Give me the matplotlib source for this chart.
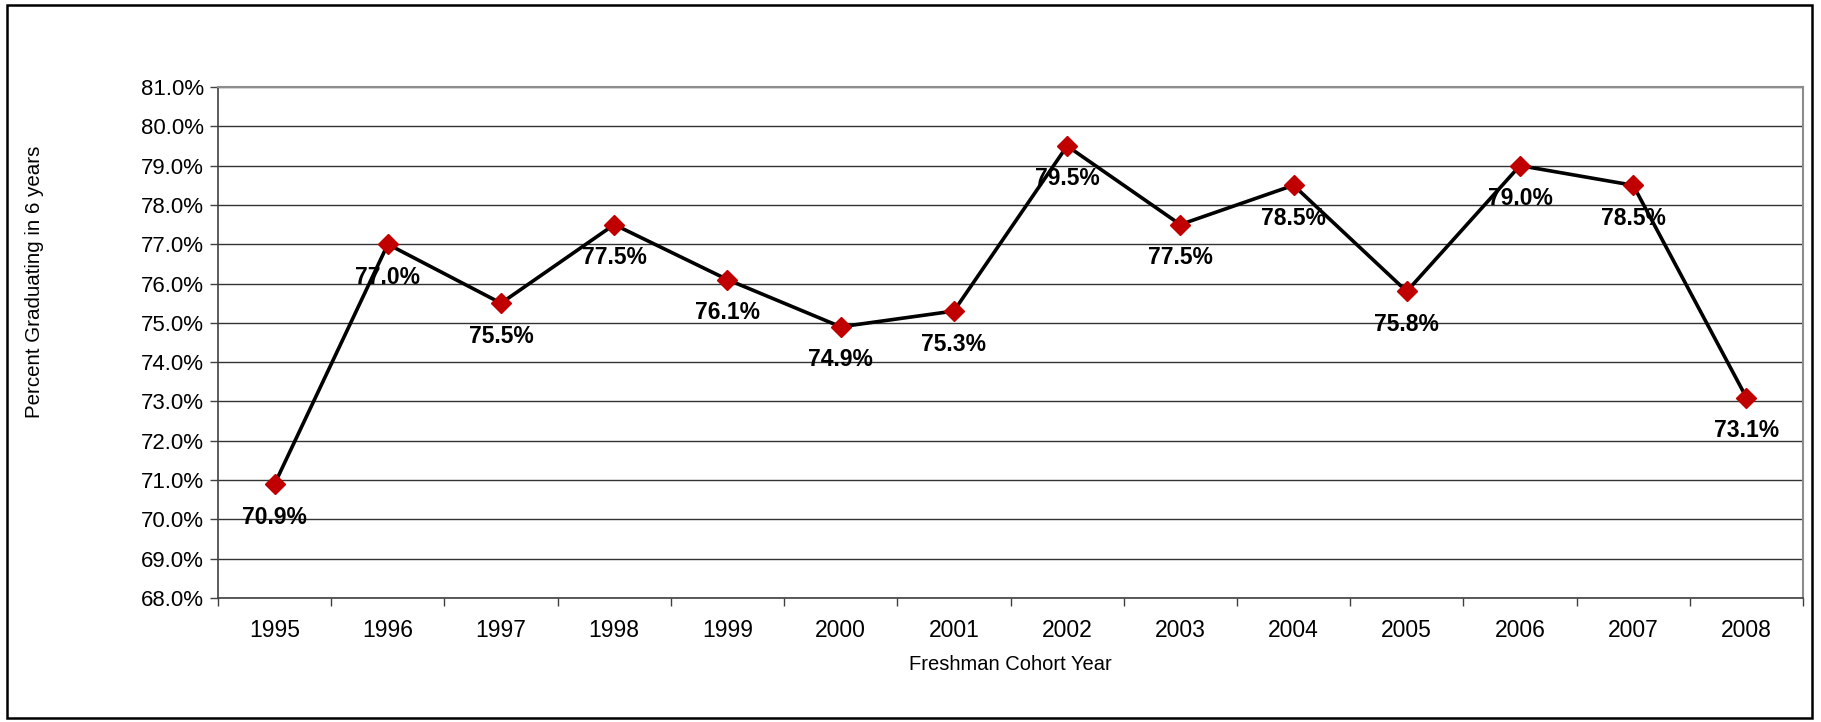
"""Six-year graduation rate by freshman cohort year."""

import matplotlib

matplotlib.use("Agg")
import matplotlib.pyplot as plt
from matplotlib.patches import Rectangle
from matplotlib.ticker import FixedLocator, FuncFormatter

COHORT_YEARS = ["1995", "1996", "1997", "1998", "1999", "2000", "2001",
                "2002", "2003", "2004", "2005", "2006", "2007", "2008"]
GRAD_RATES = [70.9, 77.0, 75.5, 77.5, 76.1, 74.9, 75.3,
              79.5, 77.5, 78.5, 75.8, 79.0, 78.5, 73.1]
Y_TICKS = [68.0 + i for i in range(14)]

FIG_W, FIG_H, DPI = 1821, 722, 100

plt.rcParams["font.family"] = ["Liberation Sans", "DejaVu Sans"]

fig = plt.figure(figsize=(FIG_W / DPI, FIG_H / DPI), dpi=DPI, facecolor="white")
ax = fig.add_axes([218 / FIG_W, 1 - 598 / FIG_H, (1803 - 218) / FIG_W, (598 - 87) / FIG_H])

x = list(range(len(COHORT_YEARS)))
ax.plot(x, GRAD_RATES, color="black", linewidth=2.6, zorder=3)
ax.plot(x, GRAD_RATES, linestyle="none", marker="D", markersize=10,
        color="#C00000", markeredgecolor="#C00000", zorder=4)

for xi, val in zip(x, GRAD_RATES):
    ax.annotate(f"{val:.1f}%", (xi, val), xytext=(0, -33), textcoords="offset pixels",
                ha="center", va="center", fontsize=16.5, fontweight="bold", zorder=5)

ax.set_xlim(-0.5, len(COHORT_YEARS) - 0.5)
ax.set_ylim(68.0, 81.0)
ax.set_yticks(Y_TICKS)
ax.yaxis.set_major_formatter(FuncFormatter(lambda v, _: f"{v:.1f}%"))
ax.set_xticks(x)
ax.set_xticklabels(COHORT_YEARS)
ax.xaxis.set_minor_locator(FixedLocator([i - 0.5 for i in range(len(COHORT_YEARS) + 1)]))
ax.tick_params(axis="x", which="major", length=0, pad=15, labelsize=16.5)
ax.tick_params(axis="x", which="minor", length=6, width=1, color="#404040", direction="out")
ax.tick_params(axis="y", length=6, width=1, color="#404040", pad=4, labelsize=16)

ax.grid(axis="y", color="#333333", linewidth=1.0)
ax.set_axisbelow(True)
for side in ("top", "right"):
    ax.spines[side].set_color("#8c8c8c")
    ax.spines[side].set_linewidth(1.5)
for side in ("left", "bottom"):
    ax.spines[side].set_color("#404040")
    ax.spines[side].set_linewidth(1.2)

fig.text(35 / FIG_W, 1 - 282 / FIG_H, "Percent Graduating in 6 years", rotation=90,
         ha="center", va="center", fontsize=14.8)
fig.text(1010 / FIG_W, 1 - 665 / FIG_H, "Freshman Cohort Year",
         ha="center", va="center", fontsize=14.5)

fig.patches.append(Rectangle((7 / FIG_W, 1 - 718 / FIG_H), (1812 - 7) / FIG_W, (718 - 5) / FIG_H,
                             transform=fig.transFigure, fill=False, edgecolor="black",
                             linewidth=1.8))

fig.savefig("out.png", dpi=DPI, facecolor="white")
